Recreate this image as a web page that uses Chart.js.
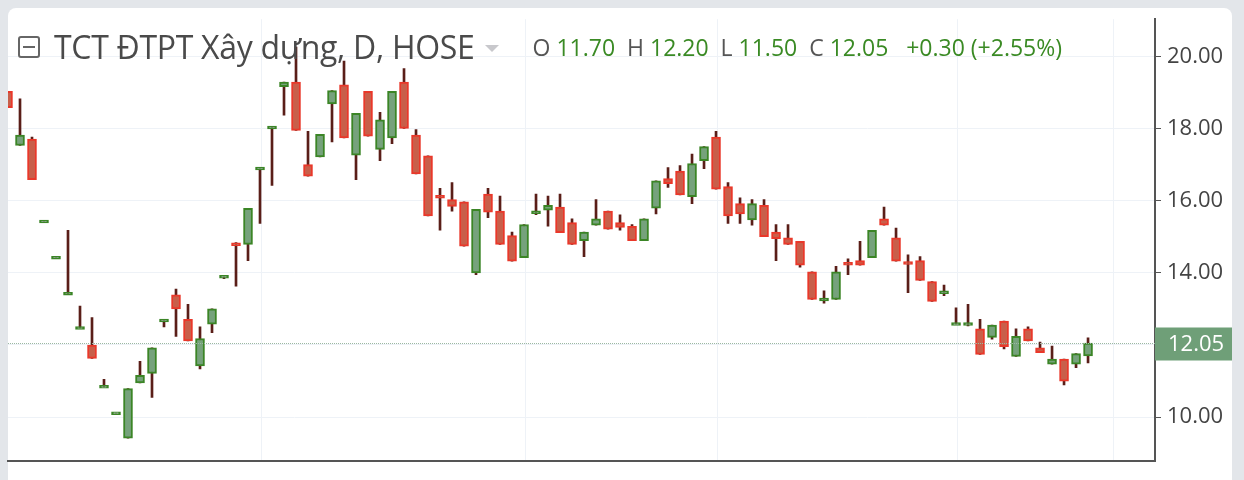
<!DOCTYPE html>
<html lang="vi">
<head>
<meta charset="UTF-8">
<title>TCT ĐTPT Xây dựng, D, HOSE</title>
<script src="https://cdn.jsdelivr.net/npm/chart.js"></script>
<style>
    body { margin: 0; background: #e3e6ea; font-family: 'Open Sans', 'Noto Sans', sans-serif; }
    .wrap { position: relative; width: 1244px; height: 480px; overflow: hidden; }
    .panel { position: absolute; left: 8px; top: 8px; width: 1224px; height: 490px; background: #fff; border-radius: 8px; }
    canvas { position: absolute; left: 0; top: 0; }
    .legend { position: absolute; left: 18px; top: 25px; display: flex; align-items: center; white-space: nowrap; }
    .icon { width: 22px; height: 22px; border: 2px solid #666; border-radius: 3px; box-sizing: border-box; position: relative; margin-right: 14px; }
    .icon::after { content: ''; position: absolute; left: 3px; right: 3px; top: 8px; height: 2px; background: #666; }
    .title { font-size: 32px; color: #4a4a4a; letter-spacing: -0.3px; }
    .caret { width: 0; height: 0; border-left: 7px solid transparent; border-right: 7px solid transparent; border-top: 7px solid #c8c8cc; margin: 4px 34px 0 10px; }
    .ohlc { font-size: 23px; color: #3a8a24; }
    .ohlc b { font-weight: normal; color: #555; }
</style>
</head>
<body>
<div class="wrap">
    <div class="panel"></div>
    <canvas id="chart" width="1244" height="480"></canvas>
    <div class="legend">
        <div class="icon"></div>
        <span class="title">TCT ĐTPT Xây dựng, D, HOSE</span>
        <div class="caret"></div>
        <span class="ohlc"><b>O</b> 11.70&nbsp; <b>H</b> 12.20&nbsp; <b>L</b> 11.50&nbsp; <b>C</b> 12.05&nbsp;&nbsp; +0.30 (+2.55%)</span>
    </div>
</div>
<script>
    // OHLC theo ngày
    const opens  = [19.03,17.53,17.71,15.42,14.42,13.42,12.47,12.00,10.84,10.11,9.42,10.95,11.21,12.68,13.39,12.71,11.42,12.58,13.89,14.84,
                    14.79,16.89,18.03,19.16,19.29,17.00,17.21,18.68,19.21,17.26,19.03,17.42,17.74,19.29,17.82,17.24,16.16,16.03,15.97,14.00,
                    16.18,15.71,15.03,14.42,15.68,15.74,15.82,15.39,14.89,15.32,15.71,15.39,15.29,14.89,15.79,16.61,16.82,16.11,17.11,17.76,
                    16.39,15.92,15.47,15.87,15.13,14.97,14.87,14.03,13.26,13.26,14.29,14.34,14.42,15.50,14.97,14.31,14.34,13.76,13.42,12.58,
                    12.58,12.45,12.21,12.66,11.68,12.45,11.92,11.47,11.61,11.47,11.70];
    const highs  = [19.03,18.82,17.76,15.42,14.42,15.18,13.08,12.76,11.05,10.11,10.79,11.55,11.92,12.68,13.55,13.13,12.50,13.00,13.89,14.84,
                    15.79,16.89,18.03,19.29,20.26,17.92,17.84,19.05,19.87,18.42,19.03,18.45,19.03,19.66,17.97,17.24,16.34,16.50,15.97,15.76,
                    16.34,16.13,15.13,15.34,16.18,16.13,16.18,15.50,15.13,16.03,15.71,15.61,15.34,15.50,16.55,16.92,16.97,17.29,17.50,17.92,
                    16.50,16.08,16.03,16.03,15.34,15.34,14.87,14.03,13.50,14.18,14.39,14.87,15.18,15.82,15.24,14.50,14.45,13.76,13.66,13.03,
                    13.13,12.71,12.55,12.66,12.45,12.50,12.08,11.97,11.61,11.76,12.20];
    const lows   = [18.58,17.53,16.58,15.42,14.42,13.42,12.47,11.63,10.84,10.11,9.42,10.95,10.55,12.50,12.24,12.11,11.34,12.34,13.84,13.63,
                    14.34,15.37,16.42,18.37,17.95,16.68,17.21,17.63,17.74,16.58,17.79,17.11,17.58,18.00,16.74,15.58,15.18,15.71,14.74,13.95,
                    15.53,14.79,14.32,14.42,15.61,15.29,15.11,14.79,14.45,15.32,15.21,15.18,14.89,14.89,15.63,16.37,16.16,15.92,16.89,16.32,
                    15.37,15.37,15.32,15.00,14.34,14.79,14.16,13.26,13.16,13.26,13.95,14.21,14.42,15.32,14.32,13.45,13.79,13.21,13.37,12.58,
                    12.53,11.74,12.16,11.89,11.68,12.11,11.79,11.47,10.89,11.37,11.50];
    const closes = [18.58,17.82,16.58,15.42,14.42,13.42,12.47,11.63,10.84,10.11,10.79,11.16,11.92,12.68,13.00,12.11,12.18,13.00,13.89,14.79,
                    15.79,16.89,18.03,19.29,17.95,16.68,17.84,19.05,17.74,18.42,17.79,18.24,19.03,18.00,16.74,15.58,16.11,15.84,14.74,15.76,
                    15.68,14.79,14.32,15.34,15.68,15.87,15.11,14.79,15.13,15.50,15.21,15.26,14.89,15.50,16.55,16.47,16.16,17.03,17.50,16.32,
                    15.58,15.63,15.92,15.00,14.95,14.79,14.21,13.26,13.26,14.03,14.21,14.21,15.18,15.32,14.32,14.27,13.79,13.21,13.50,12.58,
                    12.58,11.74,12.55,11.95,12.24,12.11,11.79,11.61,11.00,11.76,12.05];
    // vị trí đường lưới dọc (đầu tháng)
    const monthTicks = [21.1, 43.1, 59.1, 79.1, 92.1];
    const yTicks = [10, 12, 14, 16, 18, 20];
    const lastPrice = 12.05;

    const up = opens.map((o, i) => closes[i] >= o);
    const bodies = opens.map((o, i) => {
        const c = closes[i];
        if (Math.abs(o - c) < 0.06) return { x: i, y: [c - 0.04, c + 0.04] };
        return { x: i, y: [o, c] };
    });
    const wicks = highs.map((h, i) => ({ x: i, y: [lows[i], h] }));

    const priceLine = {
        id: 'priceLine',
        afterDatasetsDraw(chart) {
            const { ctx, chartArea, scales } = chart;
            const y = Math.round(scales.y.getPixelForValue(lastPrice)) + 0.5;
            ctx.save();
            ctx.strokeStyle = '#9bb8a2';
            ctx.lineWidth = 1;
            ctx.setLineDash([1, 1]);
            ctx.beginPath();
            ctx.moveTo(chartArea.left, y);
            ctx.lineTo(chartArea.right, y);
            ctx.stroke();
            ctx.setLineDash([]);
            ctx.fillStyle = '#6f9f78';
            ctx.fillRect(chartArea.right, y - 16, 77, 33);
            ctx.fillStyle = '#fff';
            ctx.font = '22px "Open Sans", sans-serif';
            ctx.textBaseline = 'middle';
            ctx.fillText(lastPrice.toFixed(2), chartArea.right + 13, y + 1);
            ctx.restore();
        }
    };

    new Chart(document.getElementById('chart'), {
        type: 'bar',
        data: {
            datasets: [
                {
                    data: bodies,
                    backgroundColor: up.map(u => u ? '#76a27c' : '#c85f4a'),
                    borderColor: up.map(u => u ? '#3b8526' : '#e9382a'),
                    borderWidth: 2,
                    borderSkipped: false,
                    barThickness: 9,
                    grouped: false,
                    order: 0
                },
                {
                    data: wicks,
                    backgroundColor: '#5a1e18',
                    borderWidth: 0,
                    barThickness: 2,
                    grouped: false,
                    order: 1
                }
            ]
        },
        options: {
            responsive: false,
            animation: false,
            layout: { padding: { left: 8, top: 1, bottom: 7, right: 12 } },
            plugins: { legend: { display: false }, tooltip: { enabled: false } },
            scales: {
                x: {
                    type: 'linear',
                    offset: false,
                    bounds: 'ticks',
                    min: 0,
                    max: 95.58,
                    afterBuildTicks: s => { s.ticks = monthTicks.map(v => ({ value: v })); },
                    afterFit: s => { s.height = 0; },
                    ticks: { display: false },
                    grid: { color: '#eef2f7', lineWidth: 1, drawTicks: false, offset: false },
                    border: { display: true, color: '#555', width: 2 }
                },
                y: {
                    position: 'right',
                    min: 8.79,
                    max: 21.03,
                    afterBuildTicks: s => { s.ticks = yTicks.map(v => ({ value: v })); },
                    afterFit: s => { s.width = 77; },
                    ticks: {
                        color: '#444',
                        padding: 6,
                        font: { size: 22, family: '"Open Sans", sans-serif' },
                        callback: v => Number(v).toFixed(2)
                    },
                    grid: { color: '#eef2f7', tickColor: '#555', tickLength: 6 },
                    border: { color: '#555', width: 2 }
                }
            }
        },
        plugins: [priceLine]
    });
</script>
</body>
</html>
